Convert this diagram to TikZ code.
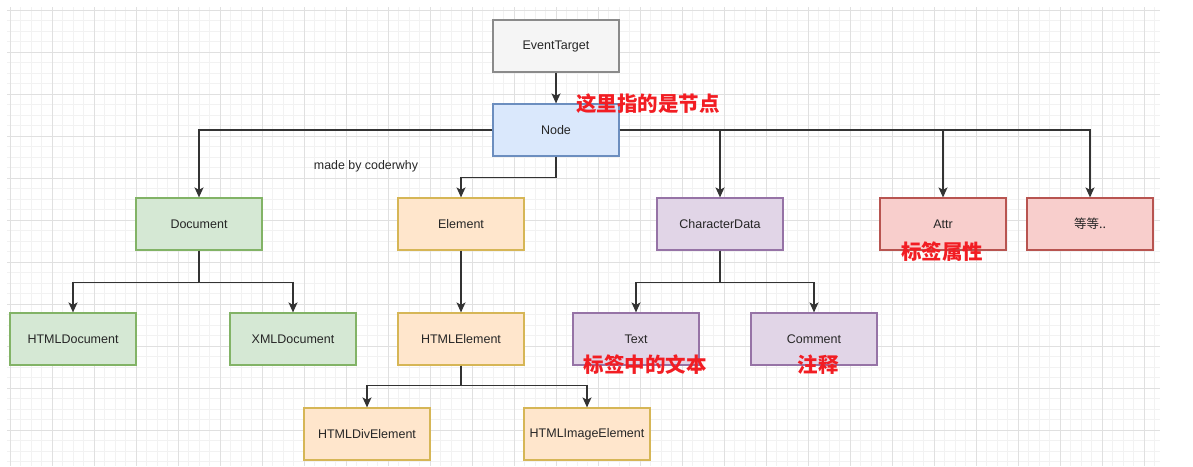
\documentclass[tikz,border=0pt]{standalone}
\usepackage{fontspec}
\setmainfont{Liberation Sans}
\newfontfamily\cjk{Noto Sans CJK SC}
\usetikzlibrary{arrows.meta}

\definecolor{grayfill}{HTML}{F5F5F5}
\definecolor{grayline}{HTML}{8A8A8A}
\definecolor{bluefill}{HTML}{DAE8FC}
\definecolor{blueline}{HTML}{6C8EBF}
\definecolor{greenfill}{HTML}{D5E8D4}
\definecolor{greenline}{HTML}{82B366}
\definecolor{orangefill}{HTML}{FFE6CC}
\definecolor{orangeline}{HTML}{D6B656}
\definecolor{purplefill}{HTML}{E1D5E7}
\definecolor{purpleline}{HTML}{9673A6}
\definecolor{redfill}{HTML}{F8CECC}
\definecolor{redline}{HTML}{B85450}
\definecolor{notered}{HTML}{F21D23}

\begin{document}
\begin{tikzpicture}
[x=1pt, y=-1pt, thick,
 box/.style={draw, line width=1.2pt, minimum width=126pt, minimum height=52pt,
   text=black!85, font=\fontsize{12.5}{15}\selectfont},
 graybox/.style={box, fill=grayfill, draw=grayline},
 bluebox/.style={box, fill=bluefill, draw=blueline},
 greenbox/.style={box, fill=greenfill, draw=greenline},
 orangebox/.style={box, fill=orangefill, draw=orangeline},
 purplebox/.style={box, fill=purplefill, draw=purpleline},
 redbox/.style={box, fill=redfill, draw=redline},
 link/.style={line width=1.4pt, black!80, -{Stealth[length=10pt,width=9pt,inset=2.5pt]}},
 note/.style={text=notered, font=\cjk\bfseries\fontsize{20.5}{22}\selectfont},
 gridminor/.style={line width=0.6pt, black!5},
 gridmajor/.style={line width=0.8pt, black!12}]

  \useasboundingbox (0,0) rectangle (1193,466);

  % background grid
  \foreach \i in {0,...,109}
    \draw[gridminor] ({10+10.5*\i},7) -- ({10+10.5*\i},466);
  \foreach \j in {0,...,43}
    \draw[gridminor] (7,{10+10.5*\j}) -- (1160,{10+10.5*\j});
  \foreach \i in {0,...,27}
    \draw[gridmajor] ({10+42*\i},7) -- ({10+42*\i},466);
  \foreach \j in {0,...,10}
    \draw[gridmajor] (7,{10+42*\j}) -- (1160,{10+42*\j});

  % classes
  \node[graybox] (evt) at (556,46) {EventTarget};
  \node[bluebox] (nd) at (556,130) {Node};

  \node[greenbox] (doc) at (199,224) {Document};
  \node[orangebox] (elem) at (461,224) {Element};
  \node[purplebox] (cdata) at (720,224) {CharacterData};
  \node[redbox] (attr) at (943,224) {Attr};
  \node[redbox] (etc) at (1090,224) {\cjk 等等..};

  \node[greenbox] (htmldoc) at (73,339) {HTMLDocument};
  \node[greenbox] (xmldoc) at (293,339) {XMLDocument};
  \node[orangebox] (htmlel) at (461,339) {HTMLElement};
  \node[purplebox] (txt) at (636,339) {Text};
  \node[purplebox] (cmt) at (814,339) {Comment};

  \node[orangebox] (div) at (367,434) {HTMLDivElement};
  \node[orangebox] (img) at (587,434) {HTMLImageElement};

  % connectors
  \draw[link] (evt) -- (nd);
  \draw[link] (nd.west) -| (doc);
  \draw[link] (nd.south) -- ++(0,21) -| (elem);
  \draw[link] (nd.east) -| (cdata);
  \draw[link] (nd.east) -| (attr);
  \draw[link] (nd.east) -| (etc);

  \draw[link] (doc.south) -- ++(0,32) -| (htmldoc);
  \draw[link] (doc.south) -- ++(0,32) -| (xmldoc);
  \draw[link] (elem) -- (htmlel);
  \draw[link] (htmlel.south) -- ++(0,20) -| (div);
  \draw[link] (htmlel.south) -- ++(0,20) -| (img);
  \draw[link] (cdata.south) -- ++(0,32) -| (txt);
  \draw[link] (cdata.south) -- ++(0,32) -| (cmt);

  % notes
  \node[text=black!85, font=\fontsize{12.4}{14}\selectfont] (made) at (366,166) {made by coderwhy};
  \node[note] (nodenote) at (648,104) {这里指的是节点};
  \node[note] (attrnote) at (942,252) {标签属性};
  \node[note] (txtnote) at (645,365) {标签中的文本};
  \node[note] (cmtnote) at (818,365) {注释};
\end{tikzpicture}
\end{document}
